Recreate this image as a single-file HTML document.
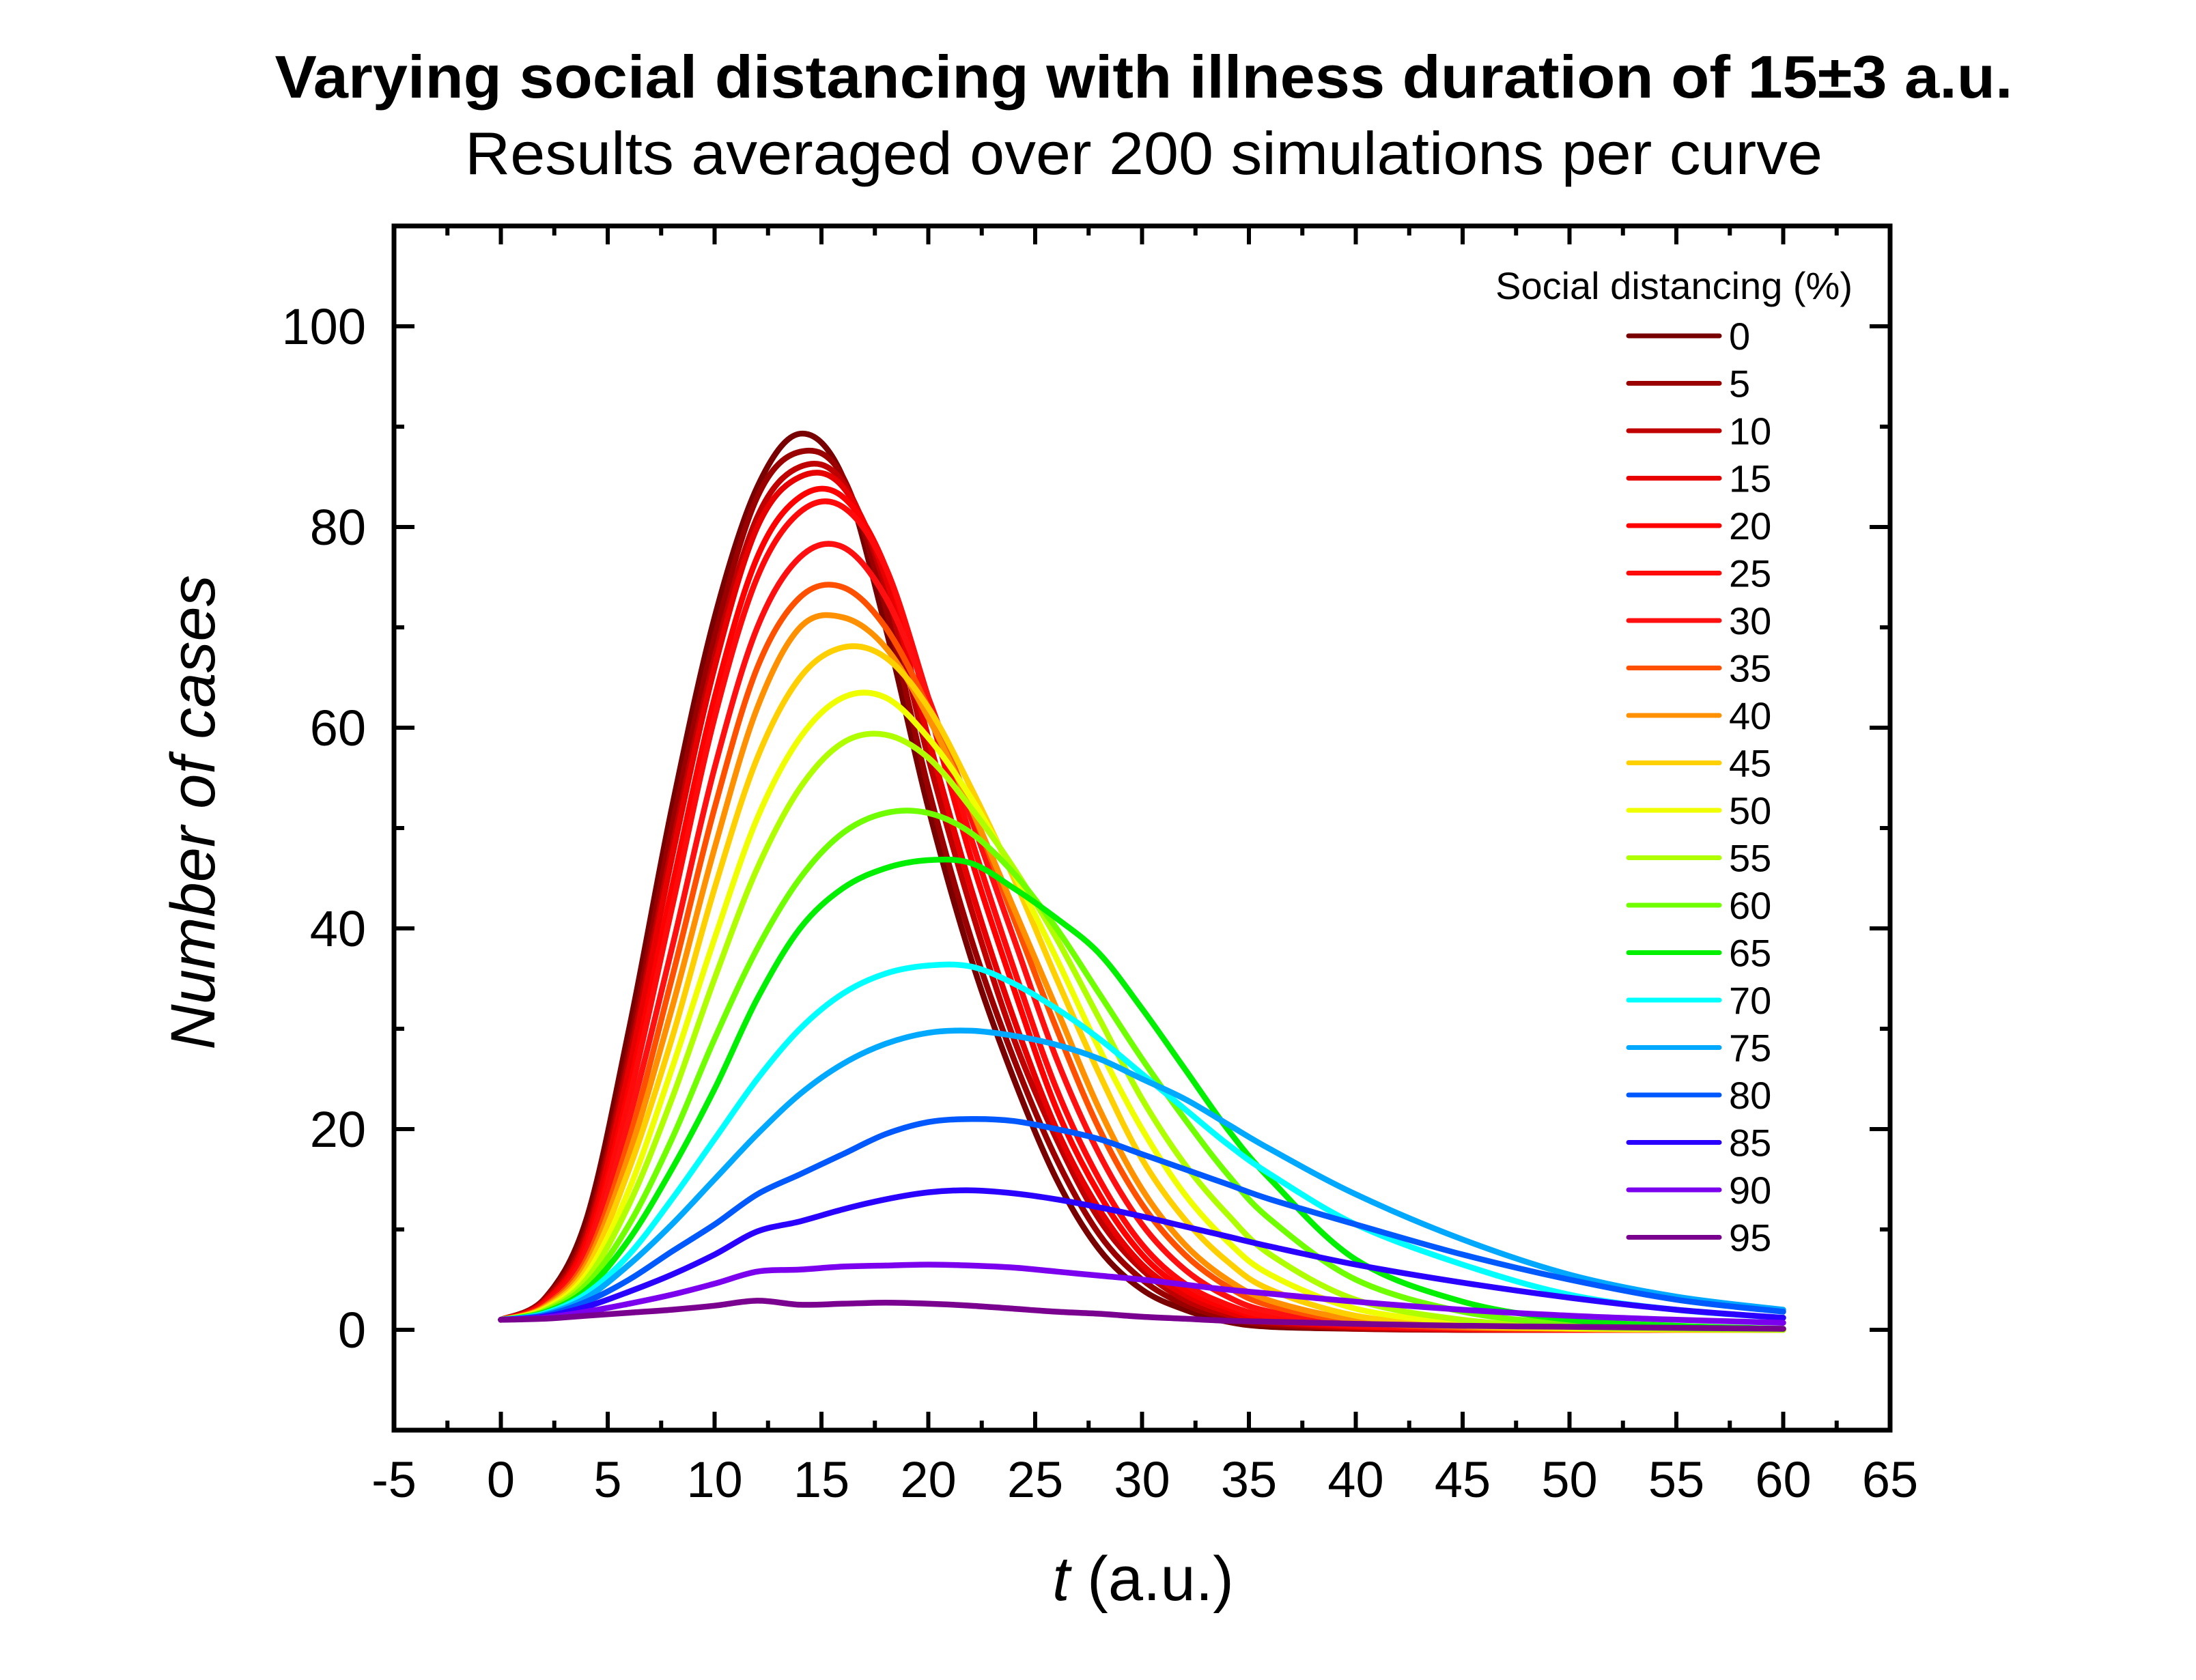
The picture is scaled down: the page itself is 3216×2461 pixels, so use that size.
<!DOCTYPE html>
<html><head><meta charset="utf-8"><style>
html,body{margin:0;padding:0;background:#fff;}
svg{display:block;font-family:"Liberation Sans",Arial,sans-serif;}
</style></head><body>
<svg id="chart" width="3216" height="2461" viewBox="0 0 3216 2461" xmlns="http://www.w3.org/2000/svg">
<rect x="0" y="0" width="3216" height="2461" fill="#fff"/>
<text x="1675" y="143" font-size="88" font-weight="bold" text-anchor="middle" textLength="2545" lengthAdjust="spacingAndGlyphs">Varying social distancing with illness duration of 15±3 a.u.</text>
<text x="1675" y="255" font-size="88" text-anchor="middle" textLength="1988" lengthAdjust="spacingAndGlyphs">Results averaged over 200 simulations per curve</text>
<g id="curves"></g>
<g id="axes"></g>
<g id="legend"></g>
<text x="1674" y="2344" font-size="92" text-anchor="middle"><tspan font-style="italic">t</tspan> (a.u.)</text>
<text x="0" y="0" font-size="92" font-style="italic" text-anchor="middle" transform="translate(314,1190) rotate(-90)">Number of cases</text>
</svg>
<script>
const T = [0,2,4,6,8,10,12,14,16,18,20,22,24,26,28,30,32,34,36,40,45,50,55,60];
const seriesLabels = ["0","5","10","15","20","25","30","35","40","45","50","55","60","65","70","75","80","85","90","95"];
const seriesColors = ["#780000","#9a0000","#c00000","#e80000","#ff0000","#ff0a0a","#ff1010","#ff5000","#ff9000","#ffd000","#f0ff00","#b0ff00","#70ff00","#00f000","#00ffff","#00a8ff","#0058ff","#2a00ff","#7a00ee","#7a0090"];
const c0  = [1,3,11,30,52,71,84,89.3,85,70,52,37,25,15,8,4,2,0.8,0.3,0.1,0,0,0,0];
const c5  = [1,3,10,28,50,69,83,87.5,85,72,54,39,27,17,9.5,5,2.5,1.2,0.5,0.1,0,0,0,0];
const c10 = [1,2.8,9.5,27,48,67,81,86,84.5,74,57,42,29,19,11,6,3,1.5,0.7,0.2,0,0,0,0];
const c15 = [1,2.7,9,26,47,66,80,85,84,75,59,44,31,20,12,6.5,3.5,1.8,0.9,0.3,0.1,0,0,0];
const c20 = [1,2.6,8.5,24,44,63,77,83,83,76,62,47,34,22,13.5,7.5,4,2.2,1.1,0.4,0.1,0,0,0];
const c25 = [1,2.5,8,23,42,61,75,81.5,82,76,63,49,36,24,15,8.5,4.6,2.5,1.3,0.4,0.1,0,0,0];
const c30 = [1,2.4,7.5,21,38,56,70,77,78,73,63,51,39,27,17.5,10.5,6,3.3,1.8,0.6,0.2,0,0,0];
const c35 = [1,2.3,7,19,35,52,66,73,74,70,62,52,41,30,20,12.5,7.5,4.3,2.4,0.8,0.2,0.1,0,0];
const c40 = [1,2.2,6.5,17.5,32,48,62,70,71,68,61,52,42,32,22,14,8.5,5,2.9,1,0.3,0.1,0,0];
const c45 = [1,2.1,6,16,29,44,57,65,68,67,62,54,45,35,25.5,17,11,6.8,4,1.4,0.4,0.1,0,0];
const c50 = [1,2,5.5,14,26,39,51,59,63,63,59,53,45.5,37,28,20,13.5,8.8,5.5,2.1,0.7,0.2,0.1,0];
const c55 = [1,1.9,5,12.5,23,35,46,54,58.5,59.3,57,52,46,39,31,23,16.5,11.5,7.5,3,1,0.3,0.1,0];
const c60 = [1,1.8,4.5,10.5,19,29,38,45,49.5,51.5,51.5,49.5,45.5,40,33.5,27,21,15.5,11,5,1.8,0.6,0.2,0.1];
const c65 = [1,1.7,4,9,16,24,33,40,44,46,46.8,46.5,44,41,37.5,32,26,20,15,7,2.8,1,0.4,0.1];
const c70 = [1,1.6,3.6,7.5,13,19,25,30,33.5,35.5,36.3,36.2,34.5,32,29,25.5,22,18.5,15.5,10.5,6.5,3.5,2,1.2];
const c75 = [1,1.5,3.2,6.5,10.5,15,19.5,23.5,26.5,28.5,29.6,29.8,29.3,28.4,27,25,23,20.5,18,13.5,9,5.5,3.3,2];
const c80 = [1,1.4,2.8,5,7.8,10.5,13.5,15.5,17.5,19.5,20.7,21,20.8,20,19,17.5,16,14.5,13,10.5,7.5,5,3,1.8];
const c85 = [1,1.3,2.3,3.8,5.5,7.5,9.8,10.8,12,13,13.7,13.9,13.6,13,12.2,11.3,10.3,9.3,8.3,6.5,4.7,3.2,2,1.2];
const c90 = [1,1.2,1.8,2.6,3.5,4.6,5.8,6,6.3,6.4,6.5,6.4,6.2,5.8,5.4,5,4.5,4,3.6,2.8,2,1.4,1,0.7];
const c95 = [1,1.1,1.4,1.7,2,2.4,2.9,2.5,2.6,2.7,2.6,2.4,2.1,1.8,1.6,1.3,1.1,0.9,0.8,0.6,0.4,0.3,0.2,0.1];
const allSeries = [c0,c5,c10,c15,c20,c25,c30,c35,c40,c45,c50,c55,c60,c65,c70,c75,c80,c85,c90,c95];
const xTickLabels = ["-5","0","5","10","15","20","25","30","35","40","45","50","55","60","65"];
const yTickLabels = ["0","20","40","60","80","100"];

const NS = "http://www.w3.org/2000/svg";
const PL = 577, PR = 2768, PT = 331, PB = 2095;
const XMIN = -5, XMAX = 65, YMIN = -10, YMAX = 110;
function xs(v){ return PL + (v - XMIN) / (XMAX - XMIN) * (PR - PL); }
function ys(v){ return PB - (v - YMIN) / (YMAX - YMIN) * (PB - PT); }
function mk(tag, attrs, parent){ const e = document.createElementNS(NS, tag); for (const k in attrs) e.setAttribute(k, attrs[k]); parent.appendChild(e); return e; }

const curves = document.getElementById("curves");
allSeries.forEach((s, i) => {
  const pts = s.map((v, j) => [xs(T[j]), ys(v)]);
  let d = "M" + pts[0][0].toFixed(1) + "," + pts[0][1].toFixed(1);
  for (let j = 0; j < pts.length - 1; j++) {
    const p0 = pts[Math.max(0, j - 1)], p1 = pts[j], p2 = pts[j + 1], p3 = pts[Math.min(pts.length - 1, j + 2)];
    const c1x = p1[0] + (p2[0] - p0[0]) / 6, c1y = p1[1] + (p2[1] - p0[1]) / 6;
    const c2x = p2[0] - (p3[0] - p1[0]) / 6, c2y = p2[1] - (p3[1] - p1[1]) / 6;
    d += " C" + c1x.toFixed(1) + "," + c1y.toFixed(1) + " " + c2x.toFixed(1) + "," + c2y.toFixed(1) + " " + p2[0].toFixed(1) + "," + p2[1].toFixed(1);
  }
  const p = mk("path", {d: d, fill: "none", stroke: seriesColors[i], "stroke-width": 8.5, "stroke-linejoin": "round", "stroke-linecap": "round"}, curves);
  
  
});

const axes = document.getElementById("axes");
const frame = mk("rect", {x: PL, y: PT, width: PR - PL, height: PB - PT, fill: "none", stroke: "#000", "stroke-width": 7}, axes);


for (let v = -5; v <= 65; v += 2.5) {
  const major = (v % 5 === 0);
  const L = major ? 27 : 14;
  const x = xs(v);
  const tb = mk("line", {x1: x, x2: x, y1: PB, y2: PB - L, stroke: "#000", "stroke-width": 6}, axes);
  
  
  const tt = mk("line", {x1: x, x2: x, y1: PT, y2: PT + L, stroke: "#000", "stroke-width": 6}, axes);
  
  
}
xTickLabels.forEach(lbl => {
  const t = mk("text", {x: xs(parseFloat(lbl)), y: 2193, "font-size": 74, "text-anchor": "middle"}, axes);
  t.textContent = lbl;
  
  
});
for (let v = -10; v <= 110; v += 10) {
  const major = (v % 20 === 0);
  const L = major ? 30 : 15;
  const y = ys(v);
  const tl = mk("line", {x1: PL, x2: PL + L, y1: y, y2: y, stroke: "#000", "stroke-width": 6}, axes);
  
  
  const tr = mk("line", {x1: PR, x2: PR - L, y1: y, y2: y, stroke: "#000", "stroke-width": 6}, axes);
  
  
}
yTickLabels.forEach(lbl => {
  const t = mk("text", {x: 536, y: ys(parseFloat(lbl)) + 26, "font-size": 74, "text-anchor": "end"}, axes);
  t.textContent = lbl;
  
  
});

const legend = document.getElementById("legend");
const lt = mk("text", {x: 2713, y: 438, "font-size": 56, "text-anchor": "end"}, legend);
lt.textContent = "Social distancing (%)";


seriesLabels.forEach((lbl, i) => {
  const y = 492 + i * 69.5;
  const g = mk("g", {}, legend);
  
  
  const ln = mk("line", {x1: 2385, x2: 2518, y1: y, y2: y, stroke: seriesColors[i], "stroke-width": 7, "stroke-linecap": "round"}, g);
  
  
  const tx = mk("text", {x: 2532, y: y + 20, "font-size": 56}, g);
  tx.textContent = lbl;
  
  
});
</script>
</body></html>
